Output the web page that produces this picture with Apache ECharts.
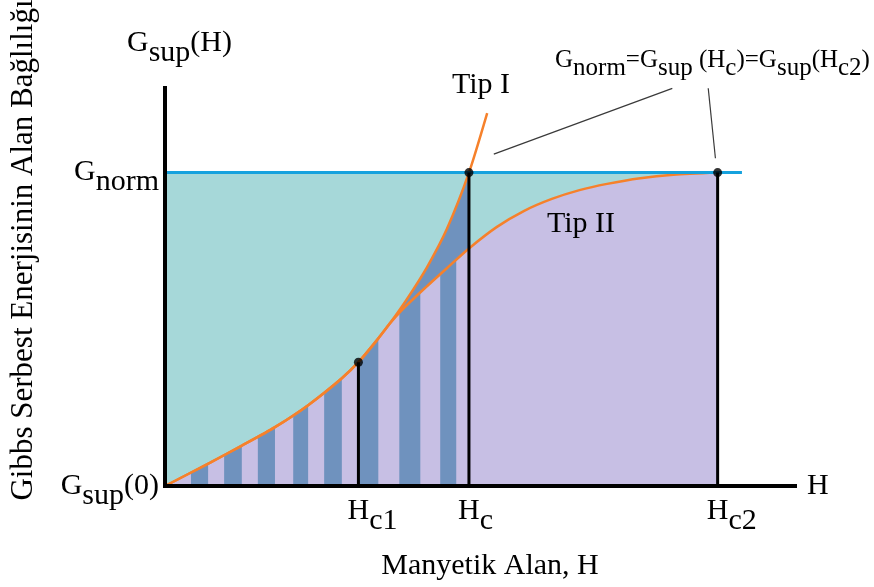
<!DOCTYPE html>
<html>
<head>
<meta charset="utf-8">
<script src="https://cdn.jsdelivr.net/npm/echarts@6/dist/echarts.min.js"></script>
<style>
  html, body { margin: 0; padding: 0; background: #fff; }
  #chart { width: 874px; height: 587px; }
</style>
</head>
<body>
<div id="chart"></div>
<script>
// Field values (H) and free-energy values (G), in schematic units: Hc2 = 100, Gnorm = 100.
const typeI_H  = [0, 8.1, 13.9, 19.9, 25.9, 32, 35, 38.6, 40.7, 43.8, 47.4, 51, 55, 58.3];
const typeI_G  = [0, 7.4, 12.9, 18.8, 25.8, 34.4, 39.5, 47.1, 51.9, 59.7, 69.8, 82.0, 100, 119];
const typeII_H = [0, 8.1, 13.9, 19.9, 25.9, 32, 35, 38.6, 40.7, 43, 47, 51, 55, 60, 65, 70, 75, 80, 86, 92, 100];
const typeII_G = [0, 7.4, 12.9, 18.8, 25.8, 34.4, 39.5, 47.1, 51.9, 56.4, 63.1, 69.5, 75.8, 82.6, 87.8, 91.6, 94.4, 96.4, 98.2, 99.3, 100];

// Critical fields and their energies: Hc1, Hc, Hc2
const critH = [35, 55, 100];
const critG = [39.5, 100, 100];
const critSub = ['c1', 'c', 'c2'];

const gNorm = 100;
const gNormLineEnd = 104.4;

// Striped band under the Type II curve (field ranges of the dark stripes)
const stripeFrom = [4.7, 10.7, 16.8, 23.2, 28.8, 35, 42.4, 49.8];
const stripeTo   = [7.8, 13.9, 19.9, 25.9, 32, 38.6, 46.2, 52.7];

// Leader lines from the equation down to the Hc and Hc2 points
const leaderA_H = [91.8, 59.5], leaderA_G = [126.9, 105.9];
const leaderB_H = [98.3, 99.6], leaderB_G = [126.9, 104.6];

const F = '"Liberation Serif", "Times New Roman", serif';
const TEAL = '#a6d8d9', LAV = '#c7bfe4', BLUE = '#6f92be', ORANGE = '#f6812b', NORMLINE = '#16a2de';

const pairs = (xs, ys) => xs.map((x, i) => [x, ys[i]]);
const typeI = pairs(typeI_H, typeI_G);
const typeII = pairs(typeII_H, typeII_G);
const typeIUpToHc = typeI.filter(p => p[0] <= critH[1]);

function typeIIAt(h) {
  for (let i = 1; i < typeII_H.length; i++) {
    if (h <= typeII_H[i]) {
      const t = (h - typeII_H[i - 1]) / (typeII_H[i] - typeII_H[i - 1]);
      return typeII_G[i - 1] + t * (typeII_G[i] - typeII_G[i - 1]);
    }
  }
  return typeII_G[typeII_G.length - 1];
}

const richBig = {
  m: { fontFamily: F, fontSize: 30, color: '#000' },
  s: { fontFamily: F, fontSize: 30, color: '#000', padding: [20, 0, 0, 0] },
  g: { fontFamily: F, fontSize: 30, color: 'rgba(0,0,0,0)', padding: [20, 0, 0, 0] }
};
const richSmall = {
  m: { fontFamily: F, fontSize: 25, color: '#000' },
  s: { fontFamily: F, fontSize: 25, color: '#000', padding: [16, 0, 0, 0] }
};

const chart = echarts.init(document.getElementById('chart'), null, { renderer: 'canvas' });

const smooth = 0.25;
const series = [
  { // normal-state region up to Gnorm
    type: 'line', data: [[0, gNorm], [critH[2], gNorm]], symbol: 'none', silent: true,
    lineStyle: { width: 0 }, areaStyle: { color: TEAL, opacity: 1 }, z: 1
  },
  { // under Type I up to Hc
    type: 'line', data: typeIUpToHc, symbol: 'none', smooth, silent: true,
    lineStyle: { width: 0 }, areaStyle: { color: BLUE, opacity: 1 }, z: 2
  },
  { // under Type II
    type: 'line', data: typeII, symbol: 'none', smooth, silent: true,
    lineStyle: { width: 0 }, areaStyle: { color: LAV, opacity: 1 }, z: 3
  },
  { // stripes under Type II
    type: 'custom', silent: true, z: 4,
    data: stripeFrom.map((a, i) => [a, stripeTo[i]]),
    encode: { x: [0, 1] },
    renderItem(params, api) {
      const x0 = api.value(0), x1 = api.value(1);
      const pts = [api.coord([x0, 0]), api.coord([x0, typeIIAt(x0)])];
      typeII_H.forEach((h, i) => { if (h > x0 && h < x1) pts.push(api.coord([h, typeII_G[i]])); });
      pts.push(api.coord([x1, typeIIAt(x1)]), api.coord([x1, 0]));
      return { type: 'polygon', shape: { points: pts }, style: { fill: BLUE } };
    }
  },
  { type: 'line', data: typeII, symbol: 'none', smooth, silent: true,
    lineStyle: { color: ORANGE, width: 2.5 }, z: 5 },
  { type: 'line', data: typeI, symbol: 'none', smooth, silent: true,
    lineStyle: { color: ORANGE, width: 2.5 }, z: 5 },
  { type: 'line', data: [[0, gNorm], [gNormLineEnd, gNorm]], symbol: 'none', silent: true,
    lineStyle: { color: NORMLINE, width: 3 }, z: 6 },
  ...critH.map((h, i) => ({
    type: 'line', data: [[h, 0], [h, critG[i]]], symbol: 'none', silent: true,
    lineStyle: { color: '#000', width: 3 }, z: 6
  })),
  { type: 'line', data: pairs(leaderA_H, leaderA_G), symbol: 'none', silent: true,
    lineStyle: { color: '#3a3a3a', width: 1.2 }, z: 6 },
  { type: 'line', data: pairs(leaderB_H, leaderB_G), symbol: 'none', silent: true,
    lineStyle: { color: '#3a3a3a', width: 1.2 }, z: 6 },
  { type: 'scatter', data: pairs(critH, critG), symbol: 'circle', symbolSize: 9, silent: true,
    itemStyle: { color: '#000' }, z: 7 }
];

chart.setOption({
  animation: false,
  backgroundColor: '#fff',
  grid: { left: 165, right: 79, top: 88, bottom: 101, containLabel: false },
  xAxis: {
    type: 'value', min: 0, max: 114, z: 10,
    axisLine: { lineStyle: { color: '#000', width: 4, cap: 'square' } },
    axisTick: { show: false },
    splitLine: { show: false },
    axisLabel: {
      customValues: critH,
      margin: 0,
      formatter: v => { const s = critSub[critH.indexOf(v)]; return '{g|' + s + '}{m|H}{s|' + s + '}'; },
      rich: richBig
    },
    name: 'H', nameLocation: 'end', nameGap: 12,
    nameTextStyle: { fontFamily: F, fontSize: 30, color: '#000', verticalAlign: 'middle' }
  },
  yAxis: {
    type: 'value', min: 0, max: 127, z: 10,
    axisLine: { lineStyle: { color: '#000', width: 4, cap: 'square' } },
    axisTick: { show: false },
    splitLine: { show: false },
    axisLabel: {
      customValues: [0, gNorm],
      margin: 6,
      formatter: v => v === 0 ? '{m|G}{s|sup}{m|(0)}' : '{m|G}{s|norm}',
      rich: richBig
    }
  },
  graphic: [
    { type: 'text', x: 24, y: 250, rotation: Math.PI / 2, silent: true, z: 100,
      style: { text: 'Gibbs Serbest Enerjisinin Alan Bağlılığı', fontFamily: F, fontSize: 31,
               fill: '#000', align: 'center', verticalAlign: 'middle' } },
    { type: 'text', x: 490, y: 566, silent: true, z: 100,
      style: { text: 'Manyetik Alan, H', fontFamily: F, fontSize: 30, fill: '#000',
               align: 'center', verticalAlign: 'middle' } },
    { type: 'text', x: 127, y: 43, silent: true, z: 100,
      style: { text: '{m|G}{s|sup}{m|(H)}', rich: richBig, fill: '#000',
               align: 'left', verticalAlign: 'middle' } },
    { type: 'text', x: 555, y: 60, silent: true, z: 100,
      style: { text: '{m|G}{s|norm}{m|=G}{s|sup}{m| (H}{s|c}{m|)=G}{s|sup}{m|(H}{s|c2}{m|)}',
               rich: richSmall, fill: '#000', align: 'left', verticalAlign: 'middle' } },
    { type: 'text', x: 452, y: 85, silent: true, z: 100,
      style: { text: 'Tip I', fontFamily: F, fontSize: 30, fill: '#000', align: 'left', verticalAlign: 'middle' } },
    { type: 'text', x: 547, y: 224, silent: true, z: 100,
      style: { text: 'Tip II', fontFamily: F, fontSize: 30, fill: '#000', align: 'left', verticalAlign: 'middle' } }
  ],
  series
});
</script>
</body>
</html>
